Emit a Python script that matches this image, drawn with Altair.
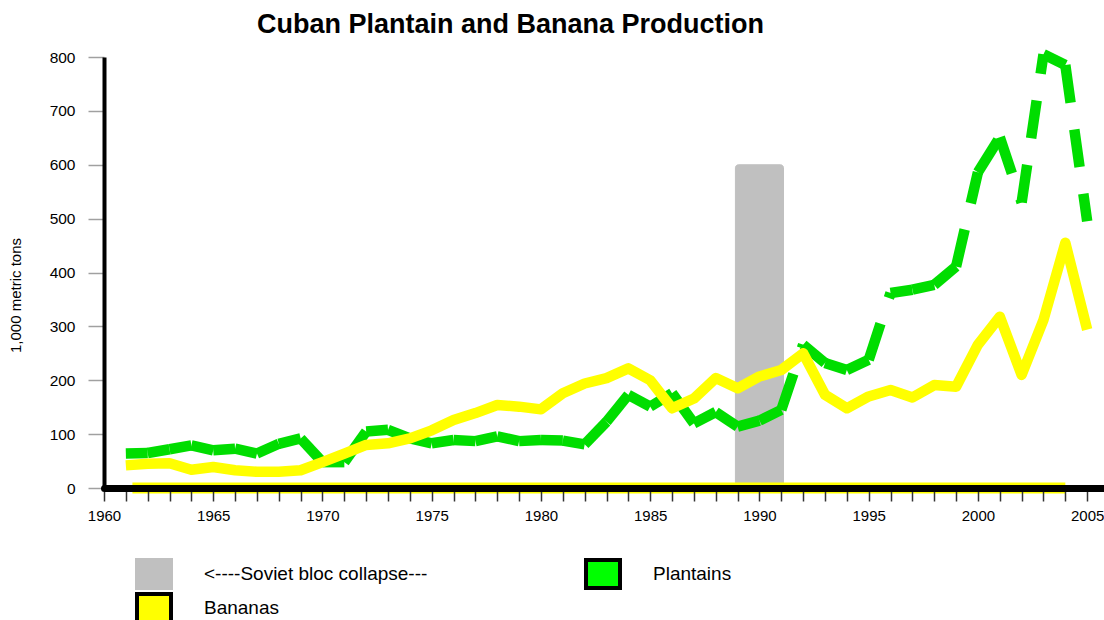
import altair as alt
import pandas as pd

# Annual production, thousand metric tons
years = list(range(1961, 2006))
plantains = [64, 65, 72, 79, 70, 73, 64, 82, 92, 48,
             48, 105, 108, 92, 83, 89, 87, 96, 87, 89,
             88, 81, 123, 173, 151, 176, 120, 141, 114, 125,
             145, 266, 232, 219, 238, 362, 368, 377, 411, 586,
             651, 530, 805, 785, 495]
bananas = [42, 45, 46, 34, 39, 33, 30, 30, 33, 48,
           64, 80, 83, 92, 107, 126, 139, 154, 151, 146,
           176, 194, 204, 222, 200, 148, 166, 204, 185, 207,
           219, 250, 173, 148, 170, 182, 168, 191, 188, 266,
           318, 210, 312, 455, 294]

# Shaded period of the Soviet bloc collapse
collapse_start = 1988.9
collapse_end = 1991.1
collapse_height = 600

# Yellow closing edge of the banana series along the baseline
banana_base_start = 1961.3
banana_base_end = 2004

collapse_label = "<----Soviet bloc collapse---"
plantain_label = "Plantains"
banana_label = "Bananas"

plantain_color = "#00dd00"
plantain_swatch = "#00ff00"
banana_color = "#ffff00"
collapse_color = "#c0c0c0"

x_ticks = list(range(1960, 2006))
y_ticks = [0, 100, 200, 300, 400, 500, 600, 700, 800]

FONT = "Liberation Sans"

# Plantain line is drawn segment by segment so every segment starts its own dash
seg_rows = []
for i in range(len(years) - 1):
    for j in (i, i + 1):
        seg_rows.append({"year": years[j], "value": plantains[j], "seg": i})
plantain_df = pd.DataFrame(seg_rows)

banana_df = pd.DataFrame({"year": years, "value": bananas, "series": banana_label})
collapse_df = pd.DataFrame({"start": [collapse_start], "end": [collapse_end],
                            "top": [collapse_height], "base": [0],
                            "series": [collapse_label]})
base_df = pd.DataFrame({"x0": [banana_base_start], "x1": [banana_base_end], "level": [0]})

x_scale = alt.Scale(domain=[1960, 2005.77], nice=False, zero=False)
y_scale = alt.Scale(domain=[0, 800], nice=False)

x_axis = alt.Axis(values=x_ticks, labelExpr="datum.value % 5 === 0 ? datum.value : ''",
                  grid=False, domainColor="#000000", domainWidth=7, domainCap="round",
                  tickColor="#333333", tickWidth=1.5, tickSize=13,
                  labelFont=FONT, labelFontSize=15, labelColor="#000000",
                  labelPadding=7, labelFlush=False, labelOverlap=False,
                  title=None, zindex=2)
y_axis = alt.Axis(values=y_ticks, grid=False, domainColor="#000000", domainWidth=4,
                  tickColor="#a0a0a0", tickWidth=1.5, tickSize=16,
                  labelFont=FONT, labelFontSize=15.5, labelColor="#000000",
                  labelPadding=13, title="1,000 metric tons", titleFont=FONT,
                  titleFontSize=15, titleFontWeight="normal", titleColor="#000000",
                  titleX=-89, titleY=238, titleAngle=270, titleAlign="center",
                  titleBaseline="middle", zindex=1)

SWATCH = "M-1,-0.82H1V0.82H-1Z"
legend_common = dict(
    title=None, orient="none", direction="horizontal", padding=0,
    symbolType=SWATCH, symbolSize=1156, symbolStrokeWidth=4,
    labelFont=FONT, labelFontSize=19, labelColor="#000000",
    labelOffset=31, labelLimit=400,
)
# First row: collapse period and plantains
legend_top = alt.Legend(legendX=31, legendY=498, columns=2, columnPadding=150,
                        symbolOpacity=1, **legend_common)
# Second row: bananas
legend_bottom = alt.Legend(legendX=31, legendY=532, columns=1,
                           symbolFillColor=banana_color, symbolStrokeColor="#000000",
                           **legend_common)

top_names = [collapse_label, plantain_label]


def xpos(field):
    return alt.X(field, scale=x_scale, axis=x_axis)


def ypos(field):
    return alt.Y(field, scale=y_scale, axis=y_axis)


collapse_bar = alt.Chart(collapse_df).mark_bar(cornerRadius=3, opacity=1).encode(
    x=xpos("start:Q"),
    x2="end:Q",
    y=ypos("top:Q"),
    y2="base:Q",
    fill=alt.Fill("series:N", scale=alt.Scale(domain=top_names,
                                              range=[collapse_color, plantain_swatch]),
                  legend=legend_top),
    stroke=alt.Stroke("series:N", scale=alt.Scale(domain=top_names,
                                                  range=[collapse_color, "#000000"]),
                      legend=legend_top),
)

plantain_line = alt.Chart(plantain_df).mark_line(
    color=plantain_color, strokeWidth=10.5, strokeDash=[38, 27],
    strokeCap="butt", strokeJoin="miter"
).encode(
    x=xpos("year:Q"),
    y=ypos("value:Q"),
    detail="seg:N",
)

banana_base = alt.Chart(base_df).mark_rule(color=banana_color, strokeWidth=11).encode(
    x=xpos("x0:Q"),
    x2="x1:Q",
    y=ypos("level:Q"),
)

banana_line = alt.Chart(banana_df).mark_line(
    color=banana_color, strokeWidth=10.5, strokeJoin="round", strokeCap="butt"
).encode(
    x=xpos("year:Q"),
    y=ypos("value:Q"),
    opacity=alt.Opacity("series:O", scale=alt.Scale(domain=[banana_label], range=[1]),
                        legend=legend_bottom),
)

chart = alt.layer(collapse_bar, plantain_line, banana_base, banana_line).properties(
    width=1000,
    height=431,
    padding={"left": 104, "top": 57, "right": 0, "bottom": 132},
    autosize=alt.AutoSizeParams(type="none"),
    background="#ffffff",
    title=alt.TitleParams("Cuban Plantain and Banana Production", font=FONT,
                          fontSize=27, fontWeight="bold", color="#000000",
                          anchor="start", frame="group", dx=153, dy=24, offset=18),
).configure_view(stroke="transparent", strokeWidth=0).configure_axis(
    grid=False, labelOverlap=False
)

chart.save("out.html", embed_options={"renderer": "svg", "actions": False})
